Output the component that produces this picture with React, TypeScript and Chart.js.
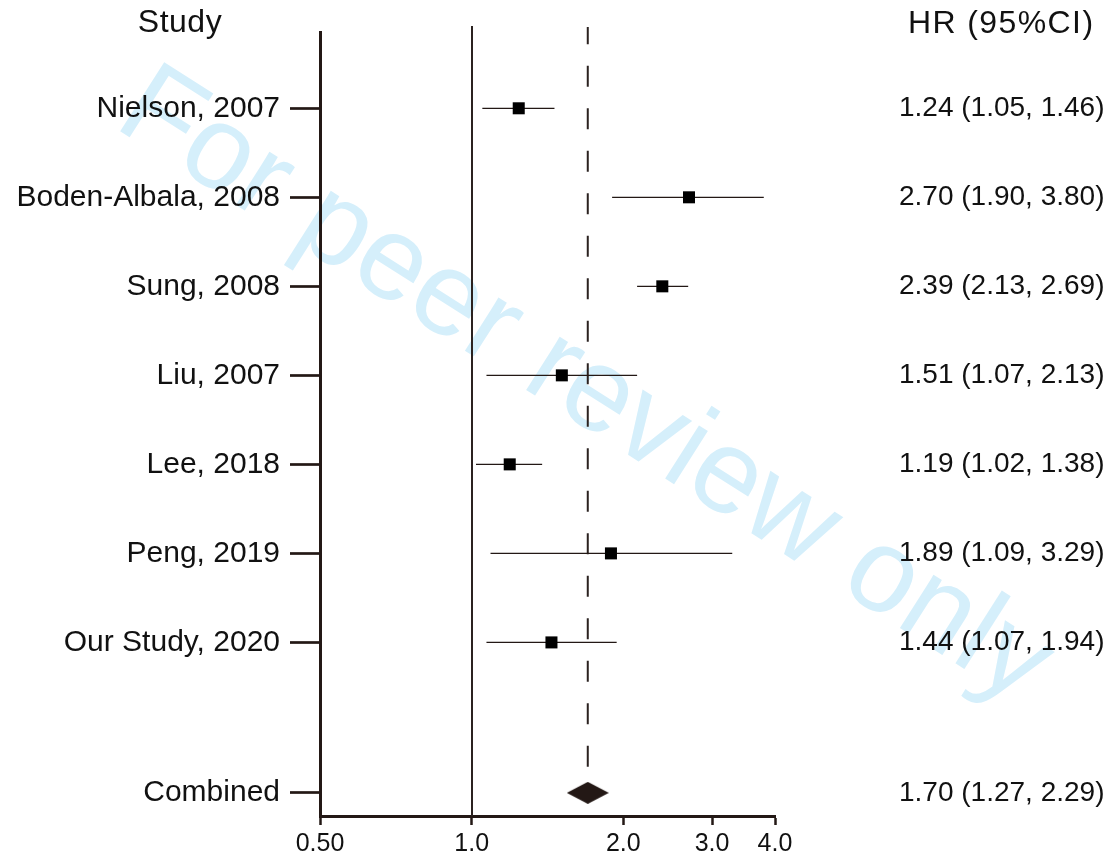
import { useEffect, useRef } from 'react';
import { Chart, registerables } from 'chart.js';

Chart.register(...registerables);

const STUDIES = ['Nielson, 2007', 'Boden-Albala, 2008', 'Sung, 2008', 'Liu, 2007', 'Lee, 2018', 'Peng, 2019', 'Our Study, 2020'];
const HR = [1.24, 2.7, 2.39, 1.51, 1.19, 1.89, 1.44];
const CI_LOW = [1.05, 1.9, 2.13, 1.07, 1.02, 1.09, 1.07];
const CI_HIGH = [1.46, 3.8, 2.69, 2.13, 1.38, 3.29, 1.94];
const COMBINED_LABEL = 'Combined';
const COMBINED_HR = 1.7;
const COMBINED_LOW = 1.27;
const COMBINED_HIGH = 2.29;
const X_TICKS = [0.5, 1, 2, 3, 4];
const X_TICK_LABELS = ['0.50', '1.0', '2.0', '3.0', '4.0'];
const NULL_LINE = 1.0;

// row layout (positions on the vertical scale)
const ROW_POS = STUDIES.map((_, i) => i);
const COMBINED_POS = 7.69;
const Y_MIN = -0.857;
const Y_MAX = 7.95;

const FONT = '"Liberation Sans", Arial, sans-serif';
const INK = '#231815';
const TEXT = '#111111';

const fmt = (v: number) => v.toFixed(2);
const ALL_POS = [...ROW_POS, COMBINED_POS];
const LEFT_LABELS = [...STUDIES, COMBINED_LABEL];
const RIGHT_LABELS = [
  ...HR.map((h, i) => `${fmt(h)} (${fmt(CI_LOW[i])}, ${fmt(CI_HIGH[i])})`),
  `${fmt(COMBINED_HR)} (${fmt(COMBINED_LOW)}, ${fmt(COMBINED_HIGH)})`,
];

function makeDiamond(): HTMLCanvasElement {
  const c = document.createElement('canvas');
  c.width = 42;
  c.height = 22;
  const g = c.getContext('2d')!;
  g.fillStyle = INK;
  g.beginPath();
  g.moveTo(0, 11);
  g.lineTo(21, 0);
  g.lineTo(42, 11);
  g.lineTo(21, 22);
  g.closePath();
  g.fill();
  return c;
}

const watermark = {
  id: 'watermark',
  beforeDraw(chart: any) {
    const ctx = chart.ctx;
    ctx.save();
    ctx.translate(112, 126);
    ctx.rotate((32.5 * Math.PI) / 180);
    ctx.font = `119px ${FONT}`;
    ctx.fillStyle = '#d5effb';
    ctx.textBaseline = 'alphabetic';
    ctx.textAlign = 'left';
    ctx.fillText('For peer review only', 0, 0);
    ctx.restore();
  },
};

const refLines = {
  id: 'refLines',
  beforeDatasetsDraw(chart: any) {
    const { ctx, chartArea, scales } = chart;
    const x = scales.x;
    const y = scales.y;
    ctx.save();
    ctx.strokeStyle = '#2b2220';
    ctx.lineWidth = 2;
    const x1 = Math.round(x.getPixelForValue(NULL_LINE));
    ctx.beginPath();
    ctx.moveTo(x1, chartArea.top - 6);
    ctx.lineTo(x1, chartArea.bottom);
    ctx.stroke();
    const xc = x.getPixelForValue(COMBINED_HR);
    const yc = y.getPixelForValue(COMBINED_POS);
    ctx.setLineDash([21, 21.5]);
    ctx.lineDashOffset = 3.7;
    ctx.beginPath();
    ctx.moveTo(xc, chartArea.top - 5);
    ctx.lineTo(xc, yc - 25);
    ctx.stroke();
    ctx.restore();
  },
};

const headers = {
  id: 'headers',
  afterDraw(chart: any) {
    const ctx = chart.ctx;
    ctx.save();
    ctx.fillStyle = TEXT;
    ctx.font = `32px ${FONT}`;
    ctx.textBaseline = 'alphabetic';
    (ctx as any).letterSpacing = '0.5px';
    ctx.textAlign = 'center';
    ctx.fillText('Study', 180, 32);
    (ctx as any).letterSpacing = '1.4px';
    ctx.textAlign = 'left';
    ctx.fillText('HR (95%CI)', 908, 33);
    ctx.restore();
  },
};

export default function App() {
  const ref = useRef<HTMLCanvasElement | null>(null);

  useEffect(() => {
    if (!ref.current) return;
    const ciData: any[] = [];
    HR.forEach((_, i) => {
      ciData.push({ x: CI_LOW[i], y: ROW_POS[i] });
      ciData.push({ x: CI_HIGH[i], y: ROW_POS[i] });
      ciData.push({ x: CI_HIGH[i], y: null });
    });
    const setTicks = (scale: any) => {
      scale.ticks = ALL_POS.map((v) => ({ value: v }));
    };
    const chart = new Chart(ref.current, {
      type: 'scatter',
      data: {
        datasets: [
          {
            label: 'HR',
            data: HR.map((h, i) => ({ x: h, y: ROW_POS[i] })),
            pointStyle: 'rect',
            pointRadius: 8.5,
            backgroundColor: '#000000',
            borderWidth: 0,
            order: 0,
          },
          {
            label: 'Combined',
            data: [{ x: COMBINED_HR, y: COMBINED_POS }],
            pointStyle: makeDiamond(),
            pointRadius: 10,
            order: 0,
          },
          {
            label: '95% CI',
            data: ciData,
            showLine: true,
            spanGaps: false,
            borderColor: INK,
            borderWidth: 1.3,
            pointRadius: 0,
            order: 1,
          } as any,
        ],
      },
      options: {
        animation: false,
        responsive: false,
        events: [],
        layout: { padding: { top: 32, left: 0, right: 0, bottom: 0 } },
        plugins: {
          legend: { display: false },
          tooltip: { enabled: false },
        },
        scales: {
          x: {
            type: 'logarithmic',
            min: 0.5,
            max: 4,
            afterBuildTicks: (scale: any) => {
              scale.ticks = X_TICKS.map((v) => ({ value: v }));
            },
            afterFit: (scale: any) => {
              scale.height = 40;
            },
            ticks: {
              autoSkip: false,
              maxRotation: 0,
              padding: 4,
              color: TEXT,
              font: { family: FONT, size: 25 },
              callback: (_v: any, i: number) => X_TICK_LABELS[i],
            },
            grid: {
              drawOnChartArea: false,
              drawTicks: true,
              tickLength: 9,
              tickWidth: 2.5,
              tickColor: INK,
            },
            border: { display: true, color: INK, width: 3 },
          },
          y: {
            type: 'linear',
            position: 'left',
            reverse: true,
            min: Y_MIN,
            max: Y_MAX,
            afterBuildTicks: setTicks,
            afterFit: (scale: any) => {
              scale.width = 320;
            },
            ticks: {
              autoSkip: false,
              padding: 10,
              color: TEXT,
              font: { family: FONT, size: 30 },
              callback: (_v: any, i: number) => LEFT_LABELS[i],
            },
            grid: {
              drawOnChartArea: false,
              drawTicks: true,
              tickLength: 30,
              tickWidth: 2.7,
              tickColor: INK,
            },
            border: { display: true, color: INK, width: 3 },
          },
          y2: {
            type: 'linear',
            position: 'right',
            reverse: true,
            min: Y_MIN,
            max: Y_MAX,
            afterBuildTicks: setTicks,
            afterFit: (scale: any) => {
              scale.width = 339;
            },
            ticks: {
              autoSkip: false,
              padding: 4,
              color: TEXT,
              font: { family: FONT, size: 28 },
              callback: (_v: any, i: number) => RIGHT_LABELS[i],
            },
            grid: {
              display: true,
              drawOnChartArea: false,
              drawTicks: true,
              tickLength: 120,
              tickColor: 'rgba(0,0,0,0)',
            },
            border: { display: false },
          },
        },
      },
      plugins: [
        watermark,
        refLines,
        headers,
        {
          id: 'resetSpacing',
          beforeDraw(chart: any) {
            (chart.ctx as any).letterSpacing = '0px';
          },
        },
      ],
    } as any);
    return () => chart.destroy();
  }, []);

  return (
    <div style={{ position: 'fixed', left: 0, top: 0, width: 1114, height: 856, background: '#ffffff' }}>
      <canvas ref={ref} width={1114} height={856} style={{ width: 1114, height: 856, display: 'block' }} />
    </div>
  );
}
